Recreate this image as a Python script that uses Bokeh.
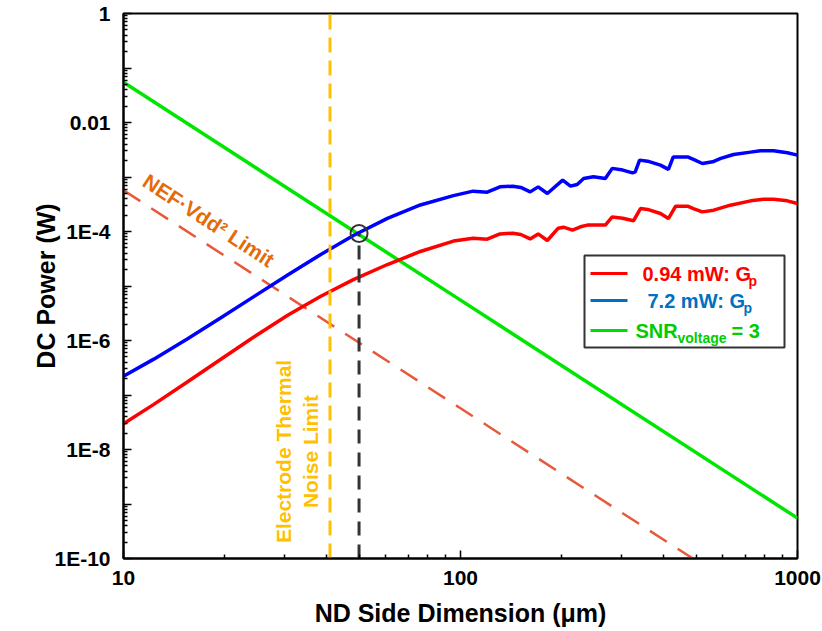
from bokeh.plotting import figure
from bokeh.models import FixedTicker, CustomJSTickFormatter, Label, BoxAnnotation
from bokeh.embed import file_html
from bokeh.resources import INLINE

# ---------------- data ----------------
blue_size_um = [10, 12.3, 15.5, 19.4, 24.3, 30.7, 38.5, 48.1, 60.7, 76.0,
                95.3, 109, 120, 131, 143, 151, 161, 170, 181, 201,
                212, 222, 232, 248, 269, 282, 303, 324, 330, 340,
                359, 392, 414, 428, 472, 491, 522, 560, 592, 646,
                726, 776, 849, 933, 1000]
blue_power_w = [2.20e-7, 4.55e-7, 1.08e-6, 2.58e-6, 6.31e-6, 1.59e-5, 3.80e-5, 8.45e-5, 1.74e-4, 3.07e-4,
                4.56e-4, 5.50e-4, 5.27e-4, 6.59e-4, 6.79e-4, 6.43e-4, 5.33e-4, 6.59e-4, 4.99e-4, 8.75e-4,
                6.79e-4, 7.30e-4, 9.40e-4, 1.01e-3, 9.40e-4, 1.44e-3, 1.34e-3, 1.19e-3, 1.24e-3, 2.04e-3,
                1.95e-3, 1.65e-3, 1.38e-3, 2.34e-3, 2.34e-3, 2.10e-3, 1.77e-3, 1.90e-3, 2.19e-3, 2.59e-3,
                2.86e-3, 3.02e-3, 3.02e-3, 2.78e-3, 2.52e-3]

red_size_um = [10, 12.3, 15.5, 19.4, 24.3, 30.7, 38.5, 48.1, 60.7, 76.0,
               95.3, 109, 120, 131, 143, 151, 161, 170, 181, 195,
               202, 215, 227, 238, 269, 282, 303, 326, 342, 359,
               392, 414, 435, 472, 491, 522, 564, 632, 726, 792,
               849, 933, 1000]
red_power_w = [2.98e-8, 6.73e-8, 1.75e-7, 4.49e-7, 1.15e-6, 2.90e-6, 6.49e-6, 1.31e-5, 2.48e-5, 4.30e-5,
               6.67e-5, 7.53e-5, 7.22e-5, 9.03e-5, 9.31e-5, 8.81e-5, 7.31e-5, 9.03e-5, 6.84e-5, 1.15e-4,
               1.20e-4, 1.06e-4, 1.22e-4, 1.31e-4, 1.31e-4, 1.85e-4, 1.75e-4, 1.57e-4, 2.64e-4, 2.54e-4,
               2.14e-4, 1.73e-4, 2.92e-4, 2.92e-4, 2.64e-4, 2.29e-4, 2.46e-4, 3.04e-4, 3.65e-4, 3.92e-4,
               3.92e-4, 3.65e-4, 3.27e-4]

snr_size_um = [10, 100, 1000]
snr_power_w = [0.055, 5.5e-6, 5.5e-10]

nef_size_um = [10, 100, 1000]
nef_power_w = [5.7e-4, 5.7e-8, 5.7e-12]

thermal_limit_um = 41
op_size_um = 50
op_power_w = 9.2e-5

x_tick_values = [10, 100, 1000]
x_tick_labels = ["10", "100", "1000"]
y_tick_values = [1, 0.01, 1e-4, 1e-6, 1e-8, 1e-10]
y_tick_labels = ["1", "0.01", "1E-4", "1E-6", "1E-8", "1E-10"]

X_MIN, X_MAX = 10, 1000
Y_MIN, Y_MAX = 1e-10, 1

FONT = "Liberation Sans"

# ---------------- figure ----------------
p = figure(width=822, height=631, x_axis_type="log", y_axis_type="log",
           x_range=(X_MIN, X_MAX), y_range=(Y_MIN, Y_MAX),
           output_backend="svg", toolbar_location=None,
           min_border_left=123, min_border_right=25, min_border_top=13, min_border_bottom=73)
p.grid.visible = False
p.outline_line_color = "black"
p.outline_line_width = 2
p.background_fill_color = "white"
p.border_fill_color = "white"

# lines
p.line(nef_size_um, nef_power_w, line_color="#E8593C", line_width=2.5, line_dash="20 13")
p.line(snr_size_um, snr_power_w, line_color="#00E600", line_width=3.5)
p.line(red_size_um, red_power_w, line_color="#FF0000", line_width=3.5)
p.line(blue_size_um, blue_power_w, line_color="#0000FF", line_width=3.5)
p.line([thermal_limit_um, thermal_limit_um], [Y_MIN, Y_MAX], line_color="#FFC000",
       line_width=3, line_dash="15 8")
p.line([op_size_um, op_size_um], [Y_MIN, op_power_w], line_color="#333333",
       line_width=3, line_dash="14 9")
p.scatter([op_size_um], [op_power_w], marker="circle", size=17, fill_alpha=0,
          line_color="#333333", line_width=2)

# axes
def fmt(vals, labs):
    return CustomJSTickFormatter(args=dict(vals=vals, labs=labs), code="""
        for (let i = 0; i < vals.length; i++) {
            if (Math.abs(Math.log10(vals[i]) - Math.log10(tick)) < 1e-6) return labs[i];
        }
        return "";
    """)

x_minor = [m * d for d in (10, 100) for m in range(2, 10)]
y_major = [10.0 ** e for e in range(-10, 1)]
y_minor = [m * 10.0 ** e for e in range(-10, 0) for m in range(2, 10)]

p.xaxis.ticker = FixedTicker(ticks=x_tick_values, minor_ticks=x_minor)
p.yaxis.ticker = FixedTicker(ticks=y_major, minor_ticks=y_minor)
p.xaxis.formatter = fmt(x_tick_values, x_tick_labels)
p.yaxis.formatter = fmt(y_tick_values, y_tick_labels)

for ax in (p.xaxis, p.yaxis):
    ax.axis_line_width = 2
    ax.axis_line_color = "black"
    ax.major_tick_in = 8
    ax.major_tick_out = 0
    ax.minor_tick_in = 4
    ax.minor_tick_out = 0
    ax.major_tick_line_width = 1.5
    ax.minor_tick_line_width = 1.5
    ax.major_tick_line_color = "black"
    ax.minor_tick_line_color = "black"
    ax.major_label_text_font = FONT
    ax.major_label_text_font_style = "bold"
    ax.major_label_text_font_size = "21px"
    ax.major_label_text_color = "black"
    ax.axis_label_text_font = FONT
    ax.axis_label_text_font_style = "bold"
    ax.axis_label_text_font_size = "25px"
    ax.axis_label_text_color = "black"

p.xaxis.axis_label = "ND Side Dimension (\u03bcm)"
p.yaxis.axis_label = "DC Power (W)"
p.xaxis.major_label_standoff = 12
p.yaxis.major_label_standoff = 13
p.xaxis.axis_label_standoff = 11
p.yaxis.axis_label_standoff = -9

# annotations in the plot
p.add_layout(Label(x=17.9, y=1.6e-4, text="NEF\u00b7Vdd\u00b2 Limit", angle=-33, angle_units="deg",
                   text_align="center", text_baseline="middle", text_color="#E36C09",
                   text_font=FONT, text_font_style="bold", text_font_size="21px"))
p.add_layout(Label(x=29.9, y=9.2e-9, text="Electrode Thermal", angle=90, angle_units="deg",
                   text_align="center", text_baseline="middle", text_color="#FFC000",
                   text_font=FONT, text_font_style="bold", text_font_size="21px"))
p.add_layout(Label(x=35.9, y=9.2e-9, text="Noise Limit", angle=90, angle_units="deg",
                   text_align="center", text_baseline="middle", text_color="#FFC000",
                   text_font=FONT, text_font_style="bold", text_font_size="21px"))

# manual legend (screen units relative to the plot frame)
p.add_layout(BoxAnnotation(left=461, right=661, bottom=211, top=303,
                           left_units="screen", right_units="screen",
                           top_units="screen", bottom_units="screen",
                           fill_color="white", fill_alpha=1,
                           line_color="#333333", line_alpha=1, line_width=2))

legend_rows = [
    (285, "#FF0000"),
    (258, "#0070C0"),
    (228, "#00DD00"),
]
for (yy, swatch) in legend_rows:
    p.add_layout(BoxAnnotation(left=467, right=504, bottom=yy - 1.5, top=yy + 1.5,
                               left_units="screen", right_units="screen",
                               top_units="screen", bottom_units="screen",
                               fill_color=swatch, fill_alpha=1, line_alpha=0))

def lab(x, y, text, color, size="20px"):
    p.add_layout(Label(x=x, y=y, x_units="screen", y_units="screen", text=text,
                       text_align="left", text_baseline="middle", text_color=color,
                       text_font=FONT, text_font_style="bold", text_font_size=size))

lab(519, 285, "0.94 mW: G", "#FF0000")
lab(625, 278, "p", "#FF0000", "14px")
lab(524, 258, "7.2 mW: G", "#0070C0")
lab(620, 251, "p", "#0070C0", "14px")
lab(512, 228, "SNR", "#00CC00")
lab(554, 221, "voltage", "#00CC00", "14px")
lab(608, 228, "= 3", "#00CC00")

open("out.html", "w").write(file_html(p, INLINE))
